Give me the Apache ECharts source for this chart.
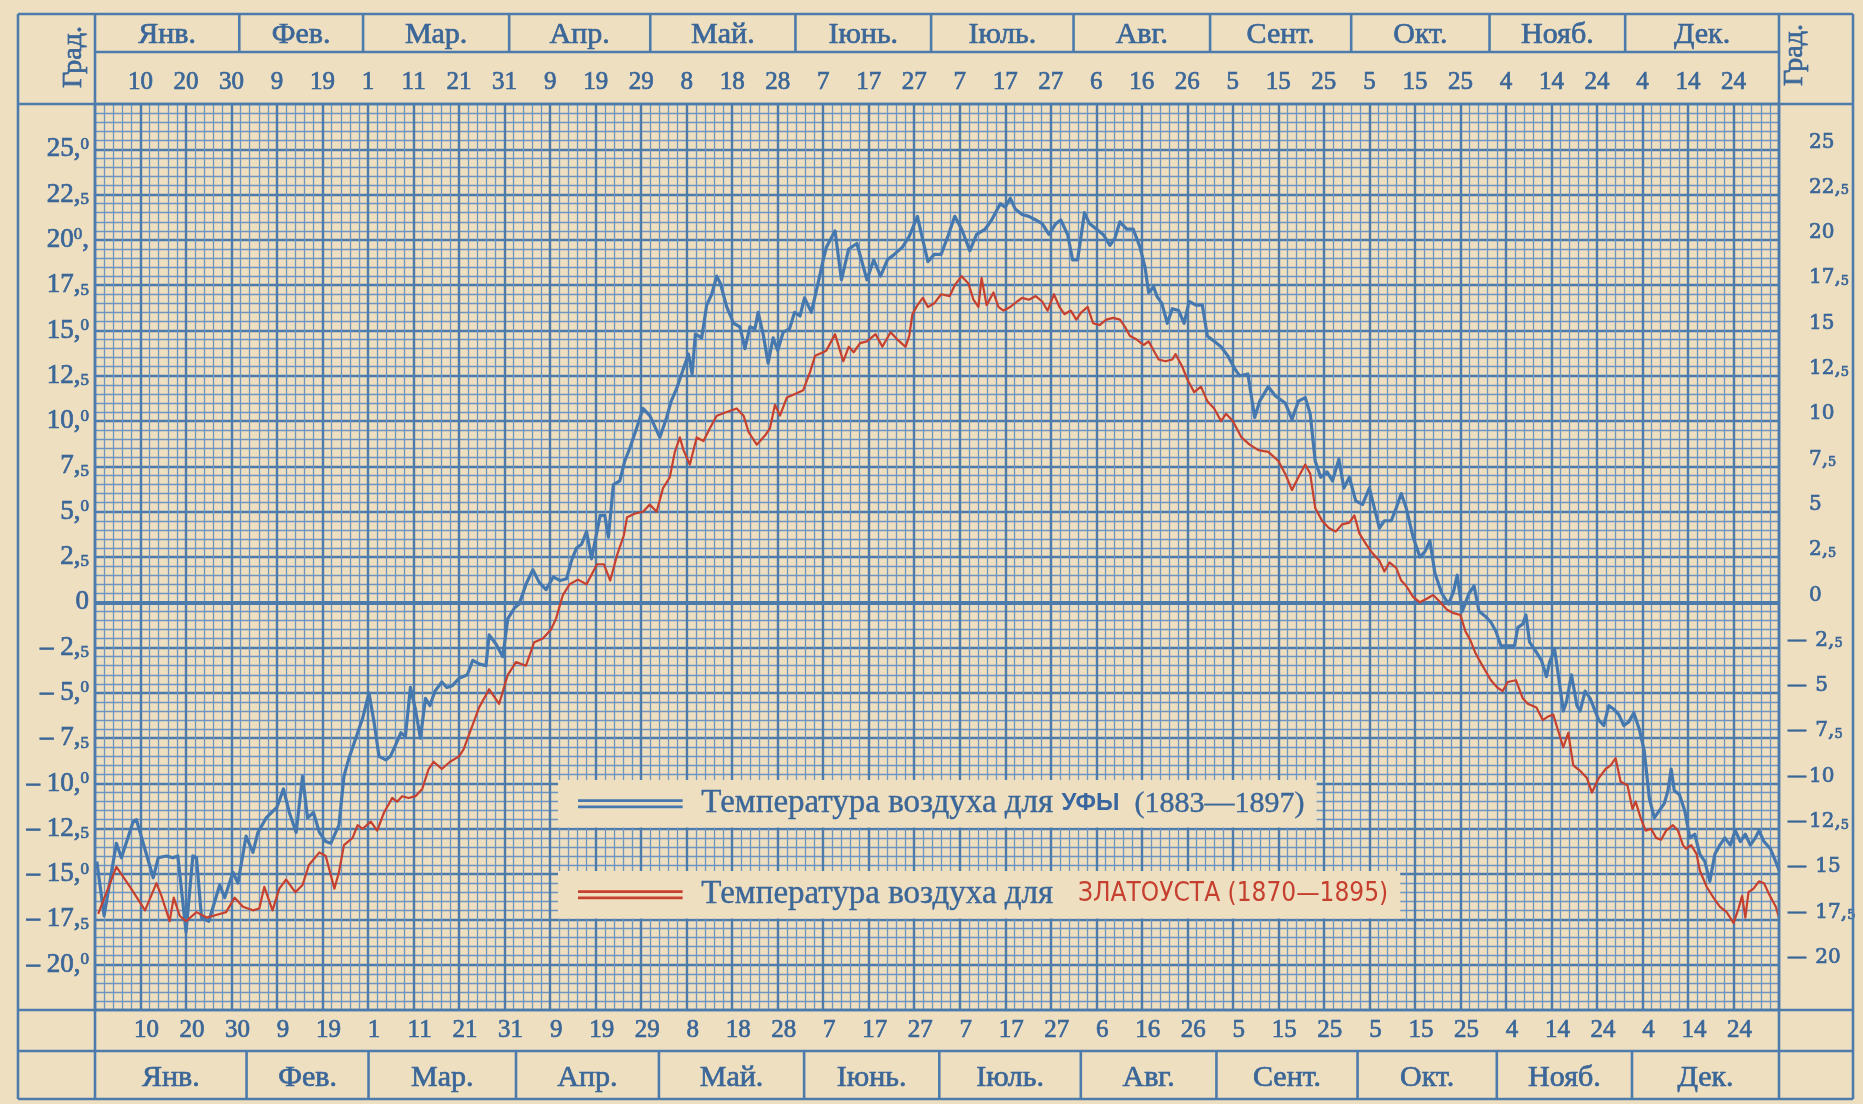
<!DOCTYPE html>
<html>
<head>
<meta charset="utf-8">
<title>Температура воздуха — Уфа и Златоуст</title>
<script src="https://cdn.jsdelivr.net/npm/echarts@6/dist/echarts.min.js"></script>
<style>
html,body{margin:0;padding:0;background:#efdfc1;}
#chart{width:1863px;height:1104px;}
</style>
</head>
<body>
<div id="chart"></div>
<script>
// подписи дней (через каждые 10 делений шкалы)
var dayTicks=['10','20','30','9','19','1','11','21','31','9','19','29','8','18','28','7','17','27',
    '7','17','27','6','16','26','5','15','25','5','15','25','4','14','24','4','14','24'];
var monthNames=['Янв.','Фев.','Мар.','Апр.','Май.','Іюнь.','Іюль.','Авг.','Сент.','Окт.','Нояб.','Дек.'];
// границы месяцев в делениях шкалы (верхняя и нижняя шапки)
var monthEdgesTop=[0,31.7,58.9,91,122,153.9,183.7,215,245,276,306.4,336.2,370];
var monthEdgesBottom=[0,33.3,60.1,92.5,123.9,155.8,185.5,216.6,246.4,277.4,308,337.7,370];

var yTicks=[25,22.5,20,17.5,15,12.5,10,7.5,5,2.5,0,-2.5,-5,-7.5,-10,-12.5,-15,-17.5,-20];
var yLeftLabels=['25,^0','22,_5','20^0,','17,_5','15,^0','12,_5','10,^0','7,_5','5,^0','2,_5','0',
    '– 2,_5','– 5,^0','– 7,_5','– 10,^0','– 12,_5','– 15,^0','– 17,_5','– 20,^0'];
var yRightLabels=['25','22,_5','20','17,_5','15','12,_5','10','7,_5','5','2,_5','0',
    '— 2,_5','— 5','— 7,_5','—10','—12,_5','— 15','— 17,_5','— 20'];

// Уфа (1883—1897)
var ufaDays=[0.4,2,4.7,5.8,8.4,9.1,12.8,13.9,15.7,17.1,18.2,20,21.5,22.3,23.4,25,27.4,28.5,30.3,31.4,
    33.2,34.7,35.8,37.6,40,41.4,42.7,44.2,45.6,46.7,48,49.3,50.7,51.8,53.6,54.7,55.8,57.3,58.8,60.2,
    61.3,62.4,63.9,64.9,66,67.2,68.2,69.3,70.4,71.5,72.6,73.6,74.7,76.2,77.3,78.5,80,81.8,83,84.4,
    85.9,86.6,88.1,89.6,90.7,92.2,93.2,94.7,96.2,97.6,99.1,100.7,102.2,103.6,104.7,105.8,106.9,108,109.1,111,
    112,112.8,113.9,115.3,116.4,117.5,119,120.4,121.9,124.1,125.6,126.6,127.8,129.3,130.4,131.2,131.9,133.3,134.4,135.5,
    136.6,137.4,138.8,140.3,141.7,142.8,143.9,145,145.7,146.8,147.9,149,150,151.2,152.6,153.7,154.9,155.9,157.4,158.5,
    160,160.7,162.6,164,165.6,167.4,169.6,171.1,172.6,174.1,175.6,177.4,178.9,180.7,181.5,183,184.4,185.9,187.4,188.9,
    190.4,192.2,193.7,195.6,197,198.9,200,201.1,202.2,203.7,205.2,206.7,208.1,209.6,211.1,212.2,213.7,214.8,215.9,217.4,
    218.5,220,221.5,223,224.1,225.2,226.7,228.1,229.6,230.7,231.5,232.6,233.3,234.4,235.6,236.7,238.1,239.3,240.4,241.9,
    243.3,244.4,245.9,247.4,248.9,250.4,251.5,253.3,254.8,255.9,257.8,259.3,261.5,263,264.4,265.9,267,268.1,269.3,270.7,
    271.9,273.3,274.4,275.6,277,278.5,280,281.1,282.2,283.3,284.8,285.9,287,288.1,289.6,291.1,292.2,293.3,294.4,295.9,
    297.4,298.5,299.3,300.4,301.9,303,304.1,305.6,306.7,307.8,308.9,310.4,311.9,312.6,313.7,314.4,315.2,316.3,317.8,318.9,
    319.6,320.7,321.5,322.6,323.3,324.4,325.6,326.3,327.4,328.5,330.4,331.5,332.6,333.7,334.8,335.9,337,338.1,339.3,340.4,
    341.5,342.6,343.7,344.8,345.6,346.3,347,348.1,349.3,350.4,351.5,352.6,353.7,354.8,355.9,357,358.1,359.3,360.4,361.5,
    362.6,363.7,364.8,365.6,366.7,368.1,369.6,370];
var ufaTemps=[-14.3,-17.3,-13.3,-14.1,-12.1,-12.0,-15.2,-14.1,-14.0,-14.1,-14.0,-18.2,-14.0,-14.1,-17.4,-17.6,-15.6,-16.3,-14.9,-15.5,
    -12.9,-13.8,-12.7,-11.9,-11.3,-10.3,-11.6,-12.7,-9.6,-11.9,-11.6,-12.7,-13.2,-13.3,-12.3,-9.6,-8.6,-7.5,-6.4,-5.0,
    -6.6,-8.5,-8.7,-8.5,-7.9,-7.2,-7.4,-4.7,-5.9,-7.5,-5.3,-5.7,-4.9,-4.4,-4.7,-4.6,-4.2,-4.0,-3.2,-3.4,
    -3.5,-1.8,-2.3,-3.0,-0.9,-0.3,-0.1,1.0,1.8,1.1,0.7,1.4,1.2,1.3,2.3,3.0,3.2,3.9,2.4,4.8,
    4.8,3.6,6.5,6.7,7.8,8.5,9.6,10.7,10.3,9.1,10.2,11.1,11.8,12.9,13.7,12.6,14.8,14.6,16.4,17.0,
    18.0,17.6,16.3,15.4,15.2,14.0,15.2,15.1,16.0,14.8,13.2,14.6,13.9,14.9,15.1,16.0,15.8,16.8,16.0,17.2,
    18.9,19.6,20.5,17.8,19.5,19.8,17.8,18.9,18.0,18.9,19.2,19.6,20.2,21.3,20.4,18.8,19.2,19.2,20.2,21.3,
    20.6,19.4,20.3,20.6,21.1,22.0,21.8,22.3,21.7,21.4,21.3,21.1,20.9,20.3,20.9,21.1,20.3,18.9,18.9,21.5,
    20.9,20.6,20.3,19.7,20.1,21.0,20.6,20.6,19.6,18.5,17.1,17.4,16.9,16.5,15.4,16.2,16.1,15.4,16.6,16.4,
    16.4,14.7,14.4,14.1,13.6,12.9,12.5,12.6,10.2,11.1,11.9,11.4,11.0,10.1,11.1,11.3,10.4,7.8,6.9,7.2,
    6.7,7.9,6.3,6.9,5.6,5.4,6.3,5.2,4.1,4.5,4.5,5.2,6.0,5.2,3.6,2.5,2.8,3.4,1.6,0.5,
    -0.1,0.6,1.5,-0.5,0.5,0.9,-0.5,-0.8,-1.1,-1.6,-2.4,-2.4,-2.4,-1.4,-1.2,-0.7,-2.2,-2.6,-3.2,-4.1,
    -3.3,-2.6,-4.0,-6.0,-5.5,-4.0,-5.7,-6.0,-4.9,-5.3,-6.5,-6.8,-5.7,-5.9,-6.2,-6.8,-6.6,-6.1,-7.0,-8.2,
    -10.8,-11.9,-11.5,-11.1,-10.4,-9.2,-10.4,-10.6,-11.5,-13.0,-12.8,-13.9,-14.3,-15.4,-13.9,-13.4,-13.0,-13.4,-12.6,-13.2,
    -12.8,-13.4,-13.0,-12.6,-13.2,-13.6,-14.5,-14.8];

// Златоуст (1870—1895)
var zlatDays=[0.7,4.7,7.7,11,13.5,14.6,16.4,17.3,18.6,20,22.3,24.5,27.4,28.8,30.7,32.5,34.7,36.1,37.2,39,
    40.5,42,44,45.6,47,49.3,50.7,52.6,53.6,54.7,56.6,57.7,58.8,60.6,62,63.5,65.3,66.4,67.5,68.9,
    70.4,71.9,73.3,74.4,76.2,78,80,81,84.4,86.6,88.8,90.7,92.5,94.7,96.5,98.4,100.2,101.3,102.8,104.3,
    106.1,108,110.3,111.8,113.2,114.7,116.2,116.9,118.7,120.4,121.9,123.4,124.8,126.3,127.4,128.5,129.3,130.7,132.2,133.7,
    135.1,136.6,138.8,141,142.5,143.6,145.4,147.2,148.3,149.4,150.5,152,153.8,155.6,157.1,158.2,160,160.7,162.6,164.4,
    165.6,166.7,168.1,169.6,171.5,173,174.8,176.3,178.1,178.9,179.6,180.7,181.9,183,184.4,185.9,187.8,188.9,190.4,191.9,
    193,194.1,194.8,195.9,197.4,198.5,199.6,201.1,202.6,203.7,205.2,206.7,208.1,209.3,210.7,211.9,213,214.4,215.6,216.7,
    218.1,219.3,220.7,222.2,223.7,225.2,226.3,227.4,228.9,230.4,231.5,232.6,233.7,235.2,236.7,237.4,238.9,240,241.5,243,
    244.4,245.9,247.4,248.5,250,251.9,253.7,255.6,257.8,260,261.5,263,264.4,265.9,267,268.1,269.6,271.1,272.6,274,
    275.6,276.7,277.8,279.3,280.7,282.2,283.3,284.4,285.9,287,288.1,289.6,291.1,292.6,294,295.6,297,298.5,300,301.1,
    302.2,303.3,304.4,306.7,308.1,309.3,310.4,312.2,313.7,314.8,316.7,318.1,319.3,320.4,321.5,322.6,323.7,324.8,326.3,327.8,
    328.9,330.4,331.9,333,334.1,335.2,336.7,337.8,338.5,339.6,340.7,341.9,343,344.1,345.2,346.7,347.8,348.9,349.6,350.7,
    351.9,352.6,354.1,355.6,357,358.5,360,361.1,361.9,362.6,363.3,364.4,365.6,366.7,367.8,369.3,370];
var zlatTemps=[-17.2,-14.6,-15.7,-17.0,-15.5,-16.2,-17.6,-16.3,-17.3,-17.6,-17.1,-17.4,-17.2,-17.1,-16.3,-16.8,-17.0,-16.9,-15.7,-17.0,
    -15.8,-15.3,-16.0,-15.6,-14.5,-13.8,-14.0,-15.8,-14.9,-13.4,-13.0,-12.3,-12.5,-12.1,-12.6,-11.6,-10.8,-11.0,-10.7,-10.8,
    -10.7,-10.3,-9.2,-8.8,-9.2,-8.8,-8.5,-8.1,-5.8,-4.8,-5.6,-4.0,-3.3,-3.5,-2.2,-2.0,-1.5,-0.9,0.4,1.0,
    1.25,1.0,2.1,2.1,1.2,2.6,3.7,4.7,4.9,5.0,5.4,5.0,6.3,6.9,8.3,9.1,8.4,7.6,9.1,8.9,
    9.6,10.3,10.5,10.7,10.3,9.4,8.7,9.2,9.6,10.9,10.3,11.3,11.5,11.7,12.7,13.6,13.8,13.9,14.8,13.3,
    14.1,13.8,14.3,14.4,14.8,14.1,14.9,14.5,14.1,14.7,15.9,16.4,16.8,16.3,16.5,17.0,16.9,17.5,18.0,17.6,
    16.7,16.3,17.9,16.4,17.1,16.3,16.1,16.3,16.6,16.8,16.7,16.9,16.6,16.1,17.0,16.3,15.9,16.1,15.6,16.0,
    16.3,15.4,15.3,15.6,15.7,15.6,15.2,14.7,14.5,14.2,14.4,13.9,13.4,13.3,13.4,13.7,13.0,12.3,11.6,11.9,
    11.1,10.7,10.0,10.4,10.0,9.1,8.7,8.4,8.3,7.8,7.1,6.2,6.9,7.6,7.1,5.2,4.5,4.1,3.9,4.3,
    4.4,4.8,3.8,3.2,2.7,2.3,1.7,2.2,1.9,1.2,0.9,0.3,0.0,0.2,0.4,0.0,-0.4,-0.6,-0.7,-1.6,
    -2.1,-2.8,-3.3,-4.3,-4.7,-4.9,-4.4,-4.3,-5.3,-5.6,-5.8,-6.5,-6.3,-6.2,-7.1,-8.0,-7.2,-9.0,-9.3,-9.7,
    -10.5,-9.7,-9.2,-9.0,-8.6,-9.9,-10.1,-11.4,-11.0,-11.9,-12.6,-12.5,-13.0,-13.1,-12.6,-12.3,-12.6,-13.4,-13.6,-13.4,
    -13.9,-14.8,-15.7,-16.3,-16.8,-17.1,-17.7,-16.9,-16.2,-17.4,-16.0,-15.8,-15.4,-15.5,-16.1,-16.8,-17.4];

var paper='#efdfc1', ink='#3a6698', gridMajor='#4d7bab', gridMinor='#6d95bf';
var ufaColor='#4678b0', zlatColor='#c6402f';
var serif="'Liberation Serif','Times New Roman',serif";
var wideSerif="'DejaVu Serif',serif";

var myChart;
$ready(function(){
    myChart=echarts.init(document.getElementById('chart'));
    drawChart();
});
function $ready(fn){ if(document.readyState!='loading'){fn();}else{document.addEventListener('DOMContentLoaded',fn);} }

function pairs(xs,ys){
    var out=[];
    for(var i=0;i<xs.length;i++){ out.push([xs[i],ys[i]]); }
    return out;
}
function yIndex(v){
    for(var i=0;i<yTicks.length;i++){ if(Math.abs(yTicks[i]-v)<1e-6) return i; }
    return -1;
}
// '25,^0' -> rich text: ^ верхний малый знак, _ нижний малый знак
function richLabel(s){
    return '{a|'+s.replace(/\^(\d)/g,'}{u|$1}{a|').replace(/_(\d)/g,'}{d|$1}{a|')+'}';
}
function dayLabel(v){
    var i=Math.round(v/10)-1;
    return (i>=0 && i<dayTicks.length) ? dayTicks[i] : '';
}
// стиль «жирной» печатной краски
function inkStyle(font,size,extra){
    var s={fontFamily:font,fontSize:size,color:ink,textBorderColor:ink,textBorderWidth:0.7};
    for(var k in extra){ s[k]=extra[k]; }
    return s;
}

function drawChart(){
    var dblIcon='path://M0,0H100V2.6H0Z M0,6H100V8.6H0Z';
    var option={
        backgroundColor:paper,
        animation:false,
        grid:{left:95,right:84,top:104,bottom:94,containLabel:false},
        legend:[
            {
                data:['Уфа'],left:558,top:780,backgroundColor:paper,padding:[7,12,7,20],
                itemWidth:108,itemHeight:9,icon:dblIcon,selectedMode:false,
                formatter:function(){ return '{g|}{t|Температура воздуха для }{b|УФЫ}{p|  (1883—1897)}'; },
                textStyle:{rich:{
                    g:{width:12},
                    t:inkStyle(serif,33,{textBorderWidth:0.4}),
                    p:inkStyle(serif,30,{textBorderWidth:0.4}),
                    b:{fontFamily:"'Liberation Sans',Arial,sans-serif",fontWeight:'bold',fontSize:24,color:'#3a66a0'}
                }}
            },
            {
                data:['Златоуст'],left:558,top:871,backgroundColor:paper,padding:[7,12,7,20],
                itemWidth:108,itemHeight:9,icon:dblIcon,selectedMode:false,
                formatter:function(){ return '{g|}{t|Температура воздуха для   }{r|ЗЛАТОУСТА (1870—1895)}'; },
                textStyle:{rich:{
                    g:{width:12},
                    t:inkStyle(serif,33,{textBorderWidth:0.4}),
                    r:{fontFamily:"'DejaVu Sans Condensed','Liberation Sans Narrow','DejaVu Sans',sans-serif",fontSize:26,color:zlatColor}
                }}
            }
        ],
        xAxis:[
            {
                type:'value',min:0,max:370,interval:10,position:'bottom',
                axisLine:{show:false},axisTick:{show:false},
                axisLabel:inkStyle(serif,25,{formatter:dayLabel,margin:8,padding:[0,0,0,12]}),
                splitLine:{show:true,lineStyle:{color:gridMajor,width:2.4}},
                minorTick:{show:false,splitNumber:5},
                minorSplitLine:{show:true,lineStyle:{color:gridMinor,width:1.3}}
            },
            {
                type:'value',min:0,max:370,interval:10,position:'top',
                axisLine:{show:false},axisTick:{show:false},splitLine:{show:false},
                axisLabel:inkStyle(serif,25,{formatter:dayLabel,margin:9})
            }
        ],
        yAxis:[
            {
                type:'value',min:-22.5,max:27.5,interval:2.5,position:'left',
                axisLine:{show:false},axisTick:{show:false},
                axisLabel:{
                    margin:6,color:ink,
                    formatter:function(v){ var i=yIndex(v); return i<0?'':richLabel(yLeftLabels[i]); },
                    rich:{
                        a:inkStyle(serif,27),
                        u:inkStyle(serif,17,{verticalAlign:'top'}),
                        d:inkStyle(serif,17,{verticalAlign:'bottom'})
                    }
                },
                splitLine:{show:true,lineStyle:{color:gridMajor,width:2.4}},
                minorTick:{show:false,splitNumber:5},
                minorSplitLine:{show:true,lineStyle:{color:gridMinor,width:1.3}}
            },
            {
                type:'value',min:-22.5,max:27.5,interval:2.5,position:'right',
                axisLine:{show:false},axisTick:{show:false},splitLine:{show:false},
                axisLabel:{
                    margin:8,padding:[0,0,14,0],color:ink,
                    formatter:function(v){
                        var i=yIndex(v);
                        if(i<0) return '';
                        var s=yRightLabels[i];
                        if(s.charAt(0)=='—') return '{m|—}'+richLabel(s.substring(1));
                        return '{m|}'+richLabel(s);
                    },
                    rich:{
                        m:inkStyle(wideSerif,20,{width:22}),
                        a:inkStyle(wideSerif,20),
                        u:inkStyle(wideSerif,13,{verticalAlign:'top'}),
                        d:inkStyle(wideSerif,13,{verticalAlign:'bottom'})
                    }
                }
            }
        ],
        series:[
            {
                name:'ноль',type:'line',data:[],z:2,silent:true,
                markLine:{silent:true,symbol:'none',label:{show:false},animation:false,
                    lineStyle:{color:gridMajor,width:4,type:'solid'},data:[{yAxis:0}]}
            },
            {
                name:'Уфа',type:'line',data:pairs(ufaDays,ufaTemps),showSymbol:false,symbol:'none',z:4,
                lineStyle:{color:ufaColor,width:3.2,join:'round'},itemStyle:{color:ufaColor}
            },
            {
                name:'Златоуст',type:'line',data:pairs(zlatDays,zlatTemps),showSymbol:false,symbol:'none',z:5,
                lineStyle:{color:zlatColor,width:2.2,join:'round'},itemStyle:{color:zlatColor}
            }
        ]
    };
    myChart.setOption(option);
    drawFrame();
}

// рамка, шапки с месяцами и «Град.»
function drawFrame(){
    function px(d){ return myChart.convertToPixel({xAxisIndex:0},d); }
    function py(t){ return myChart.convertToPixel({yAxisIndex:0},t); }
    var L=18,R=1853,T=14,B=1099;
    var gl=px(0),gr=px(370),gt=py(27.5),gb=py(-22.5);
    var topMid=52,botMid=1051;
    var els=[];
    function line(x1,y1,x2,y2,w){
        els.push({type:'line',silent:true,z:20,shape:{x1:x1,y1:y1,x2:x2,y2:y2},
            style:{stroke:gridMajor,lineWidth:w||2.6}});
    }
    function text(s,x,y,size,rot,font){
        els.push({type:'text',silent:true,z:21,x:x,y:y,rotation:rot||0,
            style:{text:s,fill:ink,stroke:ink,lineWidth:0.7,font:size+'px '+(font||serif),
                align:'center',verticalAlign:'middle',textAlign:'center',textVerticalAlign:'middle'}});
    }
    // внешняя рамка
    line(L,T,R,T); line(L,B,R,B); line(L,T,L,B); line(R,T,R,B);
    // границы поля
    line(L,gt,R,gt); line(L,gb,R,gb);
    line(gl,T,gl,B); line(gr,T,gr,B);
    line(gl,topMid,gr,topMid);
    line(L,botMid,R,botMid);
    for(var i=0;i<monthNames.length;i++){
        var a=px(monthEdgesTop[i]),b=px(monthEdgesTop[i+1]);
        if(i>0) line(a,T,a,topMid);
        text(monthNames[i],(a+b)/2,35,30);
        var c=px(monthEdgesBottom[i]),d=px(monthEdgesBottom[i+1]);
        if(i>0) line(c,botMid,c,B);
        text(monthNames[i],(c+d)/2,1078,30);
    }
    text('Град.',74,57,28,Math.PI/2);
    text('Град.',1795,55,28,Math.PI/2);
    myChart.setOption({graphic:els});
}
</script>
</body>
</html>
